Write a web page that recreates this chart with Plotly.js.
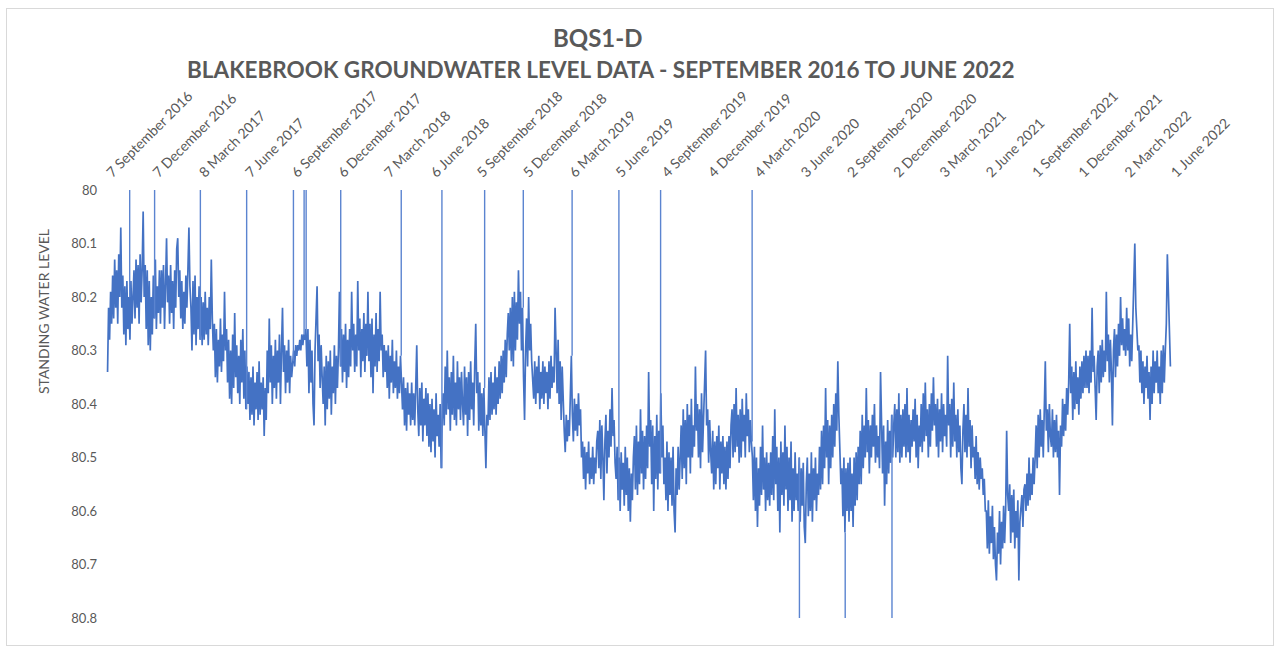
<!DOCTYPE html>
<html>
<head>
<meta charset="utf-8">
<script src="https://cdn.plot.ly/plotly-3.0.1.min.js"></script>
<style>
  html, body { margin: 0; padding: 0; background: #ffffff; }
  #chart { width: 1279px; height: 648px; }
  #frame { position: absolute; left: 6px; top: 8px; width: 1266px; height: 636px; border: 1px solid #d9d9d9; pointer-events: none; }
</style>
</head>
<body>
<div id="chart"></div>
<div id="frame"></div>
<script>
// Logger readings every 2 days from the start date
const sampleStart = '2016-09-07';
const sampleStepDays = 2;
const levels = [
  80.34, 80.22, 80.28, 80.19, 80.25, 80.16, 80.24, 80.13, 80.22, 80.15, 80.25, 80.12, 80.2, 80.07,
  80.22, 80.16, 80.27, 80.18, 80.29, 80.17, 80.26, 80.2, 80.28, 80.17, 80.25, 80.19,
  80.15, 80.24, 80.13, 80.22, 80.14, 80.25, 80.12, 80.21, 80.15, 80.04, 80.2, 80.14,
  80.26, 80.15, 80.29, 80.17, 80.3, 80.2, 80.27, 80.16, 80.24, 80.13, 80.26, 80.18, 80.23, 80.15,
  80.25, 80.15, 80.22, 80.14, 80.26, 80.18, 80.09, 80.21, 80.16, 80.25, 80.14, 80.23, 80.17, 80.26, 80.15, 80.22, 80.11, 80.09, 80.2, 80.15,
  80.24, 80.17, 80.26, 80.19, 80.25, 80.16, 80.22, 80.15,
  80.07, 80.18, 80.22, 80.3, 80.17, 80.27, 80.16, 80.29, 80.2, 80.26, 80.18, 80.28,
  80.2, 80.29, 80.21, 80.28, 80.19, 80.27, 80.22, 80.29, 80.2, 80.26, 80.13, 80.24,
  80.3, 80.25, 80.35, 80.26, 80.36, 80.28, 80.33, 80.24, 80.34, 80.27, 80.32, 80.19, 80.3, 80.26,
  80.36, 80.28, 80.39, 80.3, 80.4, 80.27, 80.37, 80.23, 80.35, 80.29, 80.38, 80.31, 80.4, 80.28, 80.36, 80.26, 80.39, 80.3, 80.41, 80.33,
  80.4, 80.34, 80.43, 80.35, 80.42, 80.33, 80.44, 80.36, 80.41, 80.34, 80.43, 80.32, 80.42, 80.36,
  80.41, 80.35, 80.46, 80.37, 80.43, 80.3,
  80.38, 80.24, 80.36, 80.29, 80.4, 80.31, 80.37, 80.28, 80.39, 80.3, 80.36, 80.27, 80.4, 80.3, 80.22, 80.34, 80.29, 80.38, 80.3, 80.36, 80.28, 80.38, 80.31, 80.35,
  80.32, 80.3, 80.33, 80.29, 80.31, 80.29, 80.3, 80.28, 80.3, 80.27, 80.29, 80.27, 80.28, 80.26,
  80.33, 80.26, 80.38, 80.28, 80.36, 80.3, 80.4, 80.44, 80.3, 80.25, 80.18, 80.32, 80.27, 80.37, 80.29, 80.35,
  80.4, 80.33, 80.44, 80.31, 80.41, 80.32, 80.39, 80.3, 80.42, 80.33, 80.38, 80.29, 80.4, 80.31, 80.37, 80.3,
  80.19, 80.33, 80.26, 80.36, 80.27, 80.34, 80.25, 80.37, 80.28, 80.35, 80.26, 80.33, 80.19, 80.3, 80.25, 80.34,
  80.27, 80.33, 80.17, 80.3, 80.24, 80.35, 80.26, 80.32, 80.23, 80.34, 80.25, 80.31,
  80.19, 80.32, 80.25, 80.35, 80.24, 80.38, 80.27, 80.33, 80.23, 80.34, 80.26, 80.32, 80.19, 80.3, 80.27, 80.35, 80.29, 80.34,
  80.3, 80.37, 80.29, 80.39, 80.31, 80.36, 80.28, 80.38, 80.32, 80.37, 80.3, 80.39, 80.33, 80.38, 80.31, 80.36,
  80.41, 80.35, 80.44, 80.37, 80.45, 80.36, 80.42, 80.38, 80.44, 80.36, 80.43, 80.38,
  80.44, 80.37, 80.29, 80.41, 80.46, 80.37, 80.44, 80.36, 80.47, 80.39, 80.44, 80.37,
  80.46, 80.38, 80.48, 80.4, 80.49, 80.39, 80.47, 80.41, 80.5, 80.38, 80.46, 80.42, 80.48, 80.4, 80.52, 80.43,
  80.38, 80.44, 80.33, 80.42, 80.3, 80.41, 80.35, 80.45, 80.34, 80.42, 80.31, 80.43, 80.36, 80.44, 80.32, 80.41, 80.35, 80.43, 80.34, 80.4,
  80.44, 80.33, 80.42, 80.35, 80.46, 80.34, 80.43, 80.32, 80.41, 80.36, 80.44, 80.33, 80.25, 80.38, 80.34, 80.45, 80.36, 80.44, 80.38, 80.46, 80.37, 80.45, 80.52, 80.42,
  80.44, 80.35, 80.43, 80.34, 80.42, 80.36, 80.41, 80.33, 80.42, 80.35, 80.4, 80.32, 80.39, 80.31, 80.38, 80.3, 80.36, 80.28, 80.35, 80.27, 80.23, 80.3,
  80.22, 80.32, 80.2, 80.33, 80.19, 80.3, 80.21, 80.28, 80.15, 80.25, 80.19, 80.3, 80.22, 80.35, 80.43, 80.3, 80.24, 80.33, 80.2, 80.3, 80.25, 80.32,
  80.36, 80.39, 80.32, 80.4, 80.33, 80.38, 80.31, 80.41, 80.34, 80.39, 80.32, 80.4, 80.33, 80.38, 80.34, 80.41, 80.32, 80.39, 80.31, 80.37, 80.33, 80.36, 80.22, 80.3,
  80.38, 80.28, 80.4, 80.32, 80.43, 80.33, 80.41, 80.45, 80.49, 80.42, 80.47, 80.43,
  80.46, 80.4, 80.31, 80.42, 80.47, 80.39, 80.45, 80.4, 80.46, 80.38, 80.44, 80.41,
  80.5, 80.47, 80.54, 80.48, 80.56, 80.49, 80.53, 80.47, 80.55, 80.5, 80.54, 80.48, 80.55, 80.5, 80.53, 80.47,
  80.45, 80.52, 80.43, 80.54, 80.44, 80.5, 80.58, 80.47, 80.42, 80.53, 80.45, 80.5, 80.41, 80.48, 80.37, 80.46, 80.43, 80.51,
  80.54, 80.48, 80.58, 80.5, 80.6, 80.49, 80.56, 80.51, 80.59, 80.48, 80.57, 80.5, 80.6, 80.52, 80.62, 80.53, 80.58, 80.5,
  80.46, 80.56, 80.44, 80.57, 80.47, 80.55, 80.41, 80.53, 80.45, 80.56, 80.46, 80.54, 80.44, 80.52,
  80.34, 80.48, 80.43, 80.55, 80.44, 80.6, 80.46, 80.54, 80.42, 80.56, 80.45, 80.53, 80.38, 80.5, 80.44, 80.55,
  80.5, 80.58, 80.47, 80.6, 80.49, 80.57, 80.5, 80.59, 80.48, 80.6, 80.64, 80.52, 80.57, 80.48, 80.56, 80.5,
  80.44, 80.54, 80.41, 80.52, 80.43, 80.55, 80.4, 80.5, 80.42, 80.53, 80.39, 80.5, 80.44, 80.48, 80.33, 80.45,
  80.4, 80.5, 80.41, 80.52, 80.38, 80.49, 80.42, 80.37, 80.3, 80.44, 80.41, 80.51, 80.43, 80.49,
  80.53, 80.45, 80.56, 80.47, 80.55, 80.46, 80.52, 80.44, 80.56, 80.47, 80.53, 80.46,
  80.55, 80.48, 80.56, 80.47, 80.54, 80.46, 80.52, 80.44,
  80.41, 80.5, 80.4, 80.49, 80.37, 80.48, 80.42, 80.51, 80.41, 80.5, 80.39, 80.47, 80.42, 80.5, 80.38, 80.46, 80.41, 80.49, 80.43, 80.47,
  80.5, 80.58, 80.48, 80.6, 80.5, 80.63, 80.52, 80.59, 80.48, 80.57, 80.44, 80.56, 80.5, 80.6, 80.49, 80.58, 80.51, 80.59, 80.49, 80.57,
  80.46, 80.58, 80.41, 80.55, 80.48, 80.6, 80.5, 80.64, 80.47, 80.57, 80.49, 80.59, 80.44, 80.56, 80.48, 80.6, 80.5, 80.58, 80.47, 80.62, 80.52, 80.6, 80.49, 80.58,
  80.53, 80.6, 80.5, 80.62, 80.52, 80.59, 80.51, 80.63, 80.66, 80.55, 80.5, 80.61, 80.53, 80.6, 80.49, 80.62, 80.52, 80.58, 80.5, 80.6, 80.53, 80.57,
  80.48, 80.56, 80.45, 80.55, 80.44, 80.52, 80.37, 80.5, 80.43, 80.55, 80.44, 80.52, 80.42, 80.5, 80.4, 80.48, 80.38, 80.45, 80.32, 80.42, 80.48, 80.55,
  80.52, 80.61, 80.5, 80.64, 80.52, 80.6, 80.51, 80.62, 80.5, 80.6, 80.53, 80.63, 80.5, 80.59, 80.49, 80.58, 80.48, 80.55,
  80.45, 80.55, 80.42, 80.52, 80.44, 80.5, 80.37, 80.49, 80.43, 80.53, 80.44, 80.5, 80.42, 80.48, 80.4, 80.51, 80.44, 80.5,
  80.46, 80.52, 80.34, 80.46, 80.53, 80.44, 80.59, 80.47, 80.55, 80.43, 80.53, 80.45, 80.51, 80.42, 80.5, 80.44,
  80.4, 80.5, 80.41, 80.49, 80.38, 80.51, 80.42, 80.5, 80.41, 80.48, 80.4, 80.5, 80.37, 80.49, 80.42, 80.51, 80.43, 80.48, 80.41, 80.47, 80.39, 80.5, 80.42, 80.52, 80.44, 80.48,
  80.4, 80.49, 80.38, 80.47, 80.36, 80.46, 80.41, 80.5, 80.4, 80.48, 80.38, 80.45, 80.35, 80.44, 80.4, 80.48, 80.39, 80.5, 80.41, 80.47, 80.38, 80.49, 80.4, 80.46, 80.42, 80.48,
  80.31, 80.44, 80.4, 80.5, 80.39, 80.48, 80.36, 80.47, 80.42, 80.5, 80.41, 80.49, 80.44, 80.52, 80.55, 80.45, 80.4, 80.49, 80.42, 80.5, 80.37, 80.48, 80.43, 80.52, 80.44, 80.5,
  80.48, 80.54, 80.46, 80.55, 80.49, 80.56, 80.5, 80.54, 80.52, 80.57, 80.54, 80.6,
  80.6, 80.67, 80.58, 80.68, 80.61, 80.66, 80.59, 80.69, 80.63, 80.7, 80.73, 80.64, 80.68, 80.6, 80.7, 80.62, 80.67, 80.59, 80.66, 80.6,
  80.45, 80.57, 80.6, 80.55, 80.66, 80.57, 80.64, 80.56, 80.67, 80.6, 80.65, 80.58, 80.73, 80.62, 80.6, 80.57, 80.63, 80.56,
  80.55, 80.6, 80.53, 80.59, 80.5, 80.58, 80.53, 80.57, 80.5, 80.55,
  80.5, 80.44, 80.52, 80.42, 80.5, 80.41, 80.48, 80.43, 80.5, 80.4, 80.32, 80.45, 80.41, 80.49, 80.4, 80.46,
  80.48, 80.41, 80.5, 80.43, 80.49, 80.42, 80.5, 80.45, 80.57, 80.44, 80.48, 80.39, 80.46, 80.4, 80.45, 80.37, 80.42, 80.36,
  80.25, 80.38, 80.33, 80.43, 80.34, 80.41, 80.32, 80.4, 80.35, 80.42, 80.33, 80.39, 80.32, 80.38, 80.31, 80.37,
  80.3, 80.37, 80.31, 80.38, 80.3, 80.36, 80.22, 80.34, 80.31, 80.37, 80.43, 80.33, 80.3, 80.38, 80.29, 80.36, 80.28, 80.35, 80.3, 80.34,
  80.19, 80.32, 80.27, 80.36, 80.28, 80.34, 80.44, 80.3, 80.26, 80.35, 80.27, 80.33, 80.25, 80.31, 80.2, 80.29, 80.24, 80.3,
  80.26, 80.31, 80.22, 80.3, 80.24, 80.33, 80.27, 80.32, 80.25, 80.2, 80.1, 80.22, 80.25, 80.3,
  80.29, 80.36, 80.3, 80.38, 80.32, 80.4, 80.33, 80.37, 80.31, 80.39, 80.34, 80.43, 80.33, 80.4, 80.3, 80.38, 80.32, 80.36, 80.3, 80.38,
  80.33, 80.4, 80.3, 80.38, 80.29, 80.36, 80.3, 80.25, 80.12, 80.2, 80.28, 80.33
];

// Single anomalous readings (vertical spikes)
const spikeDates = [
  '2016-10-20', '2016-12-08', '2017-03-08', '2017-06-07', '2017-09-07',
  '2017-09-28', '2017-10-02', '2017-12-09', '2018-04-07', '2018-06-26',
  '2018-09-18', '2018-12-03', '2019-03-09', '2019-06-09', '2019-08-30',
  '2020-02-26', '2020-05-29', '2020-08-27', '2020-11-27'
];
const spikeLevels = [
  80, 80, 80, 80, 80,
  80, 80, 80, 80, 80,
  80, 80, 80, 80, 80,
  80, 80.95, 80.95, 80.95
];

// Axis tick dates and labels
const tickDates = [
  '2016-09-07', '2016-12-07', '2017-03-08', '2017-06-07', '2017-09-06', '2017-12-06',
  '2018-03-07', '2018-06-06', '2018-09-05', '2018-12-05', '2019-03-06', '2019-06-05',
  '2019-09-04', '2019-12-04', '2020-03-04', '2020-06-03', '2020-09-02', '2020-12-02',
  '2021-03-03', '2021-06-02', '2021-09-01', '2021-12-01', '2022-03-02', '2022-06-01'
];
const tickLabels = [
  '7 September 2016', '7 December 2016', '8 March 2017', '7 June 2017', '6 September 2017', '6 December 2017',
  '7 March 2018', '6 June 2018', '5 September 2018', '5 December 2018', '6 March 2019', '5 June 2019',
  '4 September 2019', '4 December 2019', '4 March 2020', '3 June 2020', '2 September 2020', '2 December 2020',
  '3 March 2021', '2 June 2021', '1 September 2021', '1 December 2021', '2 March 2022', '1 June 2022'
];
const yTickVals = [80, 80.1, 80.2, 80.3, 80.4, 80.5, 80.6, 80.7, 80.8];

// Build the series
const DAY = 86400000;
const startMs = Date.parse(sampleStart + 'T00:00:00Z');
const toStr = t => new Date(t).toISOString().slice(0, 19).replace('T', ' ');
const xs = levels.map((v, i) => toStr(startMs + i * sampleStepDays * DAY));

// spike segments: from the reading just before each spike to the spike level
const sx = [], sy = [];
spikeDates.forEach((d, k) => {
  const t = Date.parse(d + 'T12:00:00Z');
  const i = Math.min(levels.length - 1, Math.max(0, Math.floor((t - startMs) / (sampleStepDays * DAY))));
  sx.push(toStr(t), toStr(t), null);
  sy.push(levels[i], spikeLevels[k], null);
});

const grey = '#595959';
const fontFam = 'Lato, "Open Sans", sans-serif';

const traceMain = {
  type: 'scatter', mode: 'lines',
  x: xs, y: levels,
  line: { color: '#4472C4', width: 1.7 },
  showlegend: false
};
const traceSpikes = {
  type: 'scatter', mode: 'lines',
  x: sx, y: sy,
  connectgaps: false,
  line: { color: '#5b84d0', width: 1.4 },
  showlegend: false
};

const layout = {
  width: 1279,
  height: 648,
  margin: { l: 104, r: 103, t: 190, b: 30 },
  paper_bgcolor: '#ffffff',
  plot_bgcolor: '#ffffff',
  font: { family: fontFam, color: grey, size: 13 },
  showlegend: false,
  xaxis: {
    type: 'date',
    side: 'top',
    range: ['2016-08-31', '2022-06-09'],
    tickmode: 'array',
    tickvals: tickDates,
    ticktext: tickLabels,
    tickangle: -45,
    ticks: '',
    showgrid: false,
    zeroline: false,
    showline: false,
    tickfont: { family: fontFam, color: grey, size: 14 },
    ticklabelstandoff: 6
  },
  yaxis: {
    range: [80.8, 80],
    tickmode: 'array',
    tickvals: yTickVals,
    ticktext: yTickVals.map(v => String(v)),
    ticks: '',
    showgrid: false,
    zeroline: false,
    showline: false,
    tickfont: { family: fontFam, color: grey, size: 13 },
    ticklabelstandoff: 6
  },
  annotations: [
    {
      text: '<b>BQS1-D</b>',
      xref: 'paper', yref: 'paper',
      x: (598 - 104) / 1072, y: (618 - 37) / 428,
      xanchor: 'center', yanchor: 'middle',
      showarrow: false,
      font: { family: fontFam, size: 24, color: grey }
    },
    {
      text: '<b>BLAKEBROOK GROUNDWATER LEVEL DATA - SEPTEMBER 2016 TO JUNE 2022</b>',
      xref: 'paper', yref: 'paper',
      x: (601 - 104) / 1072, y: (618 - 70) / 428,
      xanchor: 'center', yanchor: 'middle',
      showarrow: false,
      font: { family: fontFam, size: 22.5, color: grey }
    },
    {
      text: 'STANDING WATER LEVEL',
      xref: 'paper', yref: 'paper',
      x: (43 - 104) / 1072, y: (618 - 312) / 428,
      xanchor: 'center', yanchor: 'middle',
      textangle: -90,
      showarrow: false,
      font: { family: fontFam, size: 14, color: grey }
    }
  ]
};

Plotly.newPlot('chart', [traceMain, traceSpikes], layout, { displayModeBar: false, staticPlot: true });
</script>
</body>
</html>
